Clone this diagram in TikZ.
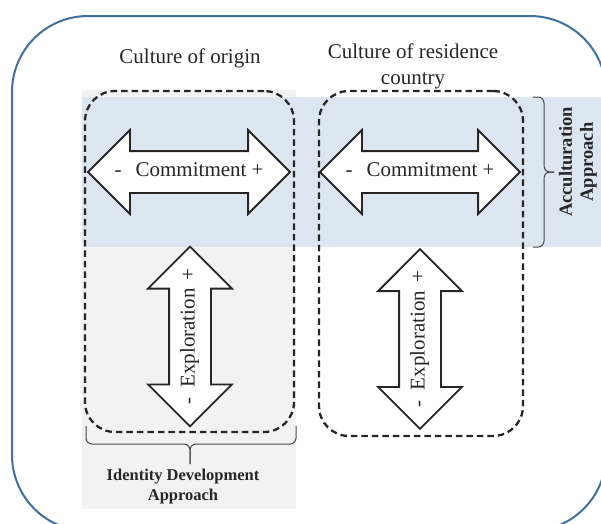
\documentclass[tikz,border=0pt]{standalone}
\usepackage{fontspec}
\setmainfont{Liberation Serif}
\usetikzlibrary{shapes.arrows}
\definecolor{framecolor}{HTML}{41709E}
\definecolor{bandcolor}{HTML}{DCE6F1}
\definecolor{panelcolor}{HTML}{F2F2F2}
\definecolor{inkcolor}{HTML}{262626}

\begin{document}
\begin{tikzpicture}[
  x=1pt, y=-1pt,
  bigarrow/.style={double arrow, draw=inkcolor, line width=1.8pt, fill=white,
    double arrow head extend=21pt, double arrow tip angle=90,
    minimum width=82pt, inner ysep=10.5pt, inner xsep=0pt,
    text height=14pt, text depth=5pt,
    font=\fontsize{21}{25}\selectfont, text=inkcolor},
  dashbox/.style={draw=inkcolor, line width=2.3pt, dash pattern=on 6.5pt off 4pt,
    rounded corners=30pt, inner sep=0pt},
  heading/.style={font=\fontsize{21}{26}\selectfont, text=inkcolor, align=center},
  approach/.style={font=\fontsize{16.5}{20}\selectfont\bfseries, text=inkcolor, align=center},
  bracket/.style={draw=inkcolor!85, line width=1pt, rounded corners=6pt},
]
  \useasboundingbox (0,0) rectangle (601,523);

  % Backgrounds
  \fill[panelcolor] (82,90) rectangle (296,509);
  \fill[bandcolor] (82,97) rectangle (601,247);

  % Outer frame
  \draw[framecolor, line width=2pt, rounded corners=76pt] (12,16) rectangle (606,531);

  % Column titles
  \node[heading] (origin) at (190,58) {Culture of origin};
  \node[heading] (residence) at (413,66) {Culture of residence\\country};

  % Dashed culture boxes
  \node[dashbox, minimum width=209pt, minimum height=341pt] (originbox) at (189.5,261.5) {};
  \node[dashbox, minimum width=204pt, minimum height=345pt] (residencebox) at (421,263.5) {};

  % Commitment and exploration arrows
  \node[bigarrow, minimum height=202pt] (commitorigin) at (189,172)
    {-\hspace{14pt}Commitment\hspace{5pt}+};
  \node[bigarrow, minimum height=200pt] (commitresidence) at (420,172)
    {-\hspace{14pt}Commitment\hspace{5pt}+};
  \node[bigarrow, minimum height=177pt, rotate=90] (explororigin) at (190,336.5)
    {-\hspace{10pt}Exploration\hspace{8pt}+};
  \node[bigarrow, minimum height=178pt, rotate=90] (explorresidence) at (420,339)
    {-\hspace{10pt}Exploration\hspace{8pt}+};

  % Approach brackets and labels
  \draw[bracket] (86,426) |- (190,444) -- (190,464);
  \draw[bracket] (296,426) |- (190,444) -- (190,464);
  \draw[bracket] (533,97) -| (544,172) -- (554,172);
  \draw[bracket] (533,247) -| (544,172) -- (554,172);
  \node[approach] (identity) at (183,487) {Identity Development\\Approach};
  \node[approach, font=\fontsize{18.5}{21}\selectfont\bfseries, rotate=90]
    (accult) at (578,162) {Acculturation\\Approach};
\end{tikzpicture}
\end{document}
